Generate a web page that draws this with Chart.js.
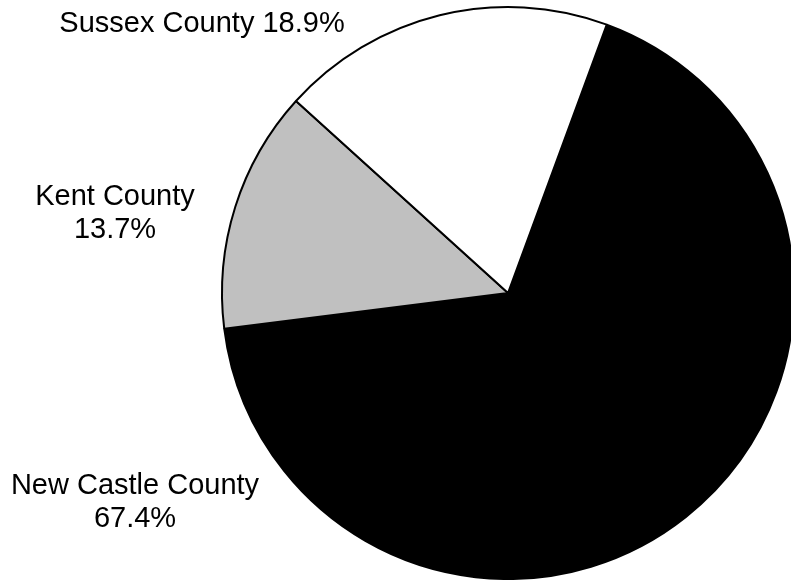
<!DOCTYPE html>
<html>
<head>
<meta charset="utf-8">
<script src="https://cdn.jsdelivr.net/npm/chart.js@4/dist/chart.umd.min.js"></script>
<style>
  html, body { margin: 0; padding: 0; background: #fff; overflow: hidden; }
  #wrap { width: 800px; height: 580px; }
</style>
</head>
<body>
<div id="wrap"><canvas id="pie"></canvas></div>
<script>
// county shares, clockwise from the top-right cut
var counties = ['New Castle County', 'Kent County', 'Sussex County'];
var shares = [67.4, 13.7, 18.9];
var fills = ['#000000', '#c0c0c0', '#ffffff'];

// where each label sits (baseline of first line), and whether it wraps
var labelSpots = [
  { x: 135, y: 494, wrap: true },
  { x: 115, y: 205, wrap: true },
  { x: 202, y: 32, wrap: false }
];

var sliceLabels = {
  id: 'sliceLabels',
  afterDraw: function (chart) {
    var ctx = chart.ctx;
    ctx.save();
    ctx.font = '29px "Liberation Sans", Arial, sans-serif';
    ctx.fillStyle = '#000';
    ctx.textAlign = 'center';
    ctx.textBaseline = 'alphabetic';
    var vals = chart.data.datasets[0].data;
    chart.data.labels.forEach(function (name, i) {
      var pct = vals[i].toFixed(1) + '%';
      var s = labelSpots[i];
      if (s.wrap) {
        ctx.fillText(name, s.x, s.y);
        ctx.fillText(pct, s.x, s.y + 33);
      } else {
        ctx.fillText(name + ' ' + pct, s.x, s.y);
      }
    });
    ctx.restore();
  }
};

new Chart(document.getElementById('pie'), {
  type: 'pie',
  data: {
    labels: counties,
    datasets: [{
      data: shares,
      backgroundColor: fills,
      borderColor: '#000',
      borderWidth: 2
    }]
  },
  options: {
    responsive: true,
    maintainAspectRatio: false,
    animation: false,
    events: [],
    rotation: 20.2,
    layout: { padding: { left: 221, right: 5, top: 6, bottom: 0 } },
    plugins: {
      legend: { display: false },
      tooltip: { enabled: false }
    }
  },
  plugins: [sliceLabels]
});
</script>
</body>
</html>
